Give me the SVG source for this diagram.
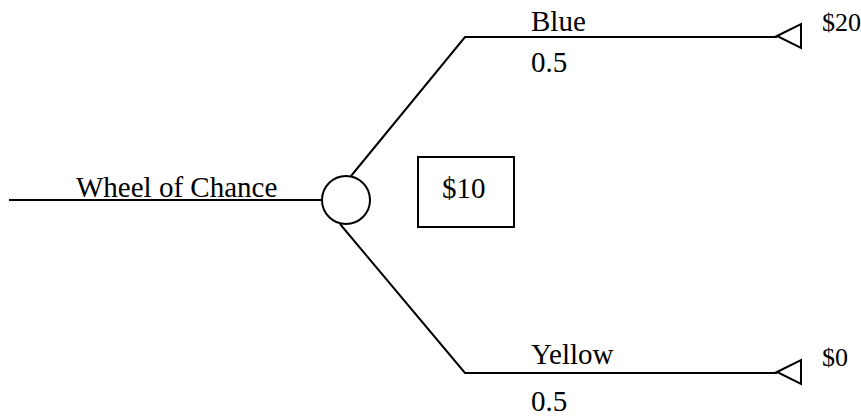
<svg xmlns="http://www.w3.org/2000/svg" width="861" height="417" viewBox="0 0 861 417">
<style>
.ln{fill:none;stroke:#000;stroke-width:2}
.t{font-family:"Liberation Serif","Times New Roman",serif;font-size:29px;fill:#000}
.p{font-family:"Liberation Serif","Times New Roman",serif;font-size:26px;fill:#000}
</style>
<rect width="861" height="417" fill="#fff"/>
<g id="connectors">
<line class="ln" x1="9" y1="200" x2="322" y2="200"/>
<polyline class="ln" points="351,176 465,37 777,37"/>
<polyline class="ln" points="340,224 465,373 777,373"/>
</g>
<g id="chance">
<circle class="ln" cx="346" cy="200" r="24"/>
<text class="t" x="76" y="197">Wheel of Chance</text>
</g>
<g id="value">
<rect class="ln" x="418" y="157" width="96" height="70"/>
<text class="t" x="442" y="198">$10</text>
</g>
<g id="blue">
<text class="t" x="531" y="31">Blue</text>
<text class="t" x="531" y="72">0.5</text>
</g>
<g id="yellow">
<text class="t" x="531" y="364">Yellow</text>
<text class="t" x="531" y="411">0.5</text>
</g>
<g id="end-blue">
<polygon class="ln" points="777,36 801,24 801,48"/>
<text class="p" x="822" y="31">$20</text>
</g>
<g id="end-yellow">
<polygon class="ln" points="777,372 801,360 801,384"/>
<text class="p" x="822" y="366">$0</text>
</g>
</svg>
